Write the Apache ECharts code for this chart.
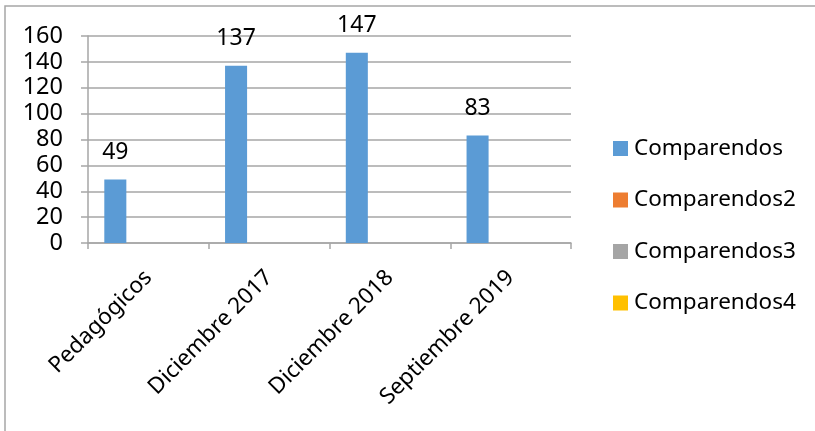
<!DOCTYPE html>
<html>
<head>
<meta charset="utf-8">
<script src="https://cdn.jsdelivr.net/npm/echarts@6/dist/echarts.min.js"></script>
<style>
  html, body { margin: 0; padding: 0; background: #fff; }
  #chart { width: 815px; height: 431px; }
</style>
</head>
<body>
<div id="chart"></div>
<script>
const categories = ["Pedagógicos", "Diciembre 2017", "Diciembre 2018", "Septiembre 2019"];
const comparendos = [49, 137, 147, 83];
const comparendos2 = [null, null, null, null];
const comparendos3 = [null, null, null, null];
const comparendos4 = [null, null, null, null];
const seriesNames = ["Comparendos", "Comparendos2", "Comparendos3", "Comparendos4"];
const yTicks = { min: 0, max: 160, interval: 20 };

const font = "'Noto Sans', sans-serif";
const colors = ["#5B9BD5", "#ED7D31", "#A5A5A5", "#FFC000"];

let myChart = echarts.init(document.getElementById("chart"));
const allData = [comparendos, comparendos2, comparendos3, comparendos4];

let option = {
  animation: false,
  color: colors,
  textStyle: { fontFamily: font },
  grid: { left: 88, right: 244, top: 36, bottom: 188 },
  graphic: [
    {
      type: "polyline",
      shape: { points: [[5, 431], [5, 6], [815, 6]] },
      style: { stroke: "#A6A6A6", lineWidth: 1.5, fill: null },
    },
  ],
  legend: {
    orient: "vertical",
    left: 613,
    top: 137,
    padding: 0,
    itemWidth: 15,
    itemHeight: 15,
    itemGap: 28.5,
    icon: "rect",
    textStyle: { fontSize: 22.5, lineHeight: 20, color: "#000", fontFamily: font, padding: [0, 0, 0, 1] },
    data: seriesNames,
  },
  xAxis: {
    type: "category",
    data: categories,
    axisLine: { lineStyle: { color: "#A6A6A6", width: 1.5 } },
    axisTick: { show: true, length: 6, lineStyle: { color: "#A6A6A6", width: 1.5 } },
    axisLabel: {
      rotate: 45,
      interval: 0,
      fontSize: 22.5,
      color: "#000",
      margin: 31,
    },
  },
  yAxis: {
    type: "value",
    min: yTicks.min,
    max: yTicks.max,
    interval: yTicks.interval,
    axisLine: { show: true, lineStyle: { color: "#A6A6A6", width: 1.5 } },
    axisTick: { show: true, length: 7, lineStyle: { color: "#A6A6A6", width: 1.5 } },
    axisLabel: { fontSize: 23.5, color: "#000", margin: 25 },
    splitLine: { lineStyle: { color: "#A6A6A6", width: 1.5 } },
  },
  series: seriesNames.map((name, i) => ({
    name: name,
    type: "bar",
    barGap: "0%",
    barCategoryGap: "27%",
    data: allData[i],
    label: {
      show: i === 0,
      position: "top",
      distance: 16,
      fontSize: 23,
      color: "#000",
    },
  })),
};
myChart.setOption(option);
</script>
</body>
</html>
